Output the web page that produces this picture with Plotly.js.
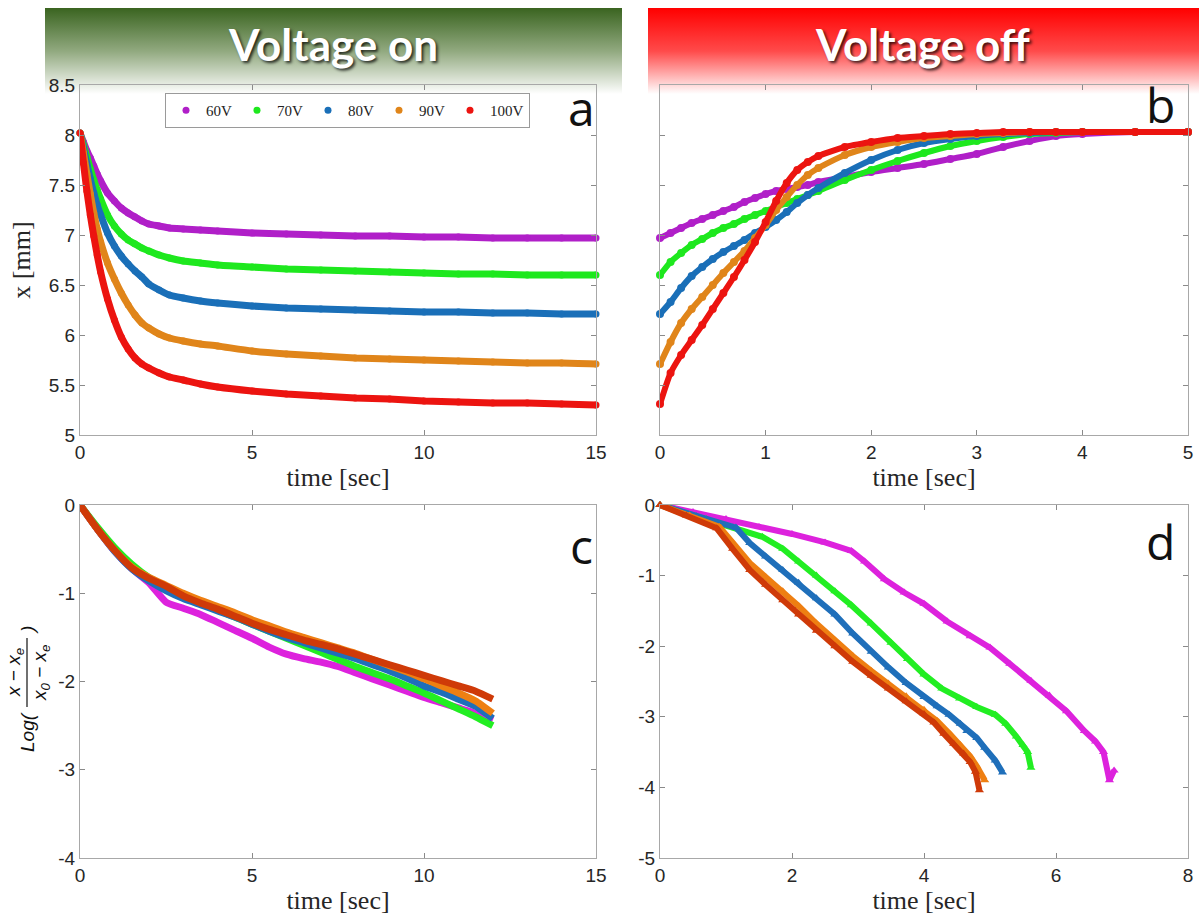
<!DOCTYPE html>
<html>
<head>
<meta charset="utf-8">
<script src="https://cdn.plot.ly/plotly-3.0.1.min.js"></script>
<style>html,body{margin:0;padding:0;background:#fff;}#chart{width:1199px;height:920px;}</style>
</head>
<body>
<div id="chart"></div>
<script>
// ---------- DATA ----------
const seriesNames = ['60V', '70V', '80V', '90V', '100V'];
const colorsTop = ['#b01fc8', '#1ee81e', '#1a6fb8', '#e0851a', '#ec1410'];
const colorsBottom = ['#dd22dd', '#22ee22', '#1f6fba', '#ee7f12', '#cf3a08'];

// Panel a: voltage on, x [mm]
const tOn = [0, 0.1, 0.2, 0.3, 0.4, 0.5, 0.6, 0.8, 1.0, 1.2, 1.4, 1.6, 1.8, 2.0, 2.3, 2.6, 3.0, 3.5, 4.0, 5, 6, 7, 8, 9, 10, 11, 12, 13, 14, 15];
const on60  = [8.02, 7.93, 7.84, 7.77, 7.69, 7.61, 7.54, 7.42, 7.34, 7.27, 7.22, 7.18, 7.14, 7.11, 7.09, 7.07, 7.06, 7.05, 7.04, 7.02, 7.01, 7.00, 6.99, 6.99, 6.98, 6.98, 6.97, 6.97, 6.97, 6.97];
const on70  = [8.02, 7.90, 7.78, 7.66, 7.55, 7.45, 7.36, 7.20, 7.09, 7.01, 6.95, 6.91, 6.87, 6.84, 6.80, 6.77, 6.74, 6.72, 6.70, 6.68, 6.66, 6.65, 6.64, 6.63, 6.62, 6.61, 6.61, 6.60, 6.60, 6.60];
const on80  = [8.02, 7.87, 7.71, 7.56, 7.42, 7.30, 7.20, 7.02, 6.89, 6.79, 6.71, 6.64, 6.58, 6.51, 6.45, 6.40, 6.37, 6.34, 6.32, 6.29, 6.27, 6.26, 6.25, 6.24, 6.23, 6.23, 6.22, 6.22, 6.21, 6.21];
const on90  = [8.02, 7.82, 7.61, 7.41, 7.22, 7.06, 6.93, 6.72, 6.56, 6.42, 6.30, 6.20, 6.12, 6.07, 6.01, 5.97, 5.94, 5.91, 5.89, 5.84, 5.81, 5.79, 5.77, 5.76, 5.75, 5.74, 5.73, 5.72, 5.72, 5.71];
const on100 = [8.02, 7.72, 7.44, 7.20, 6.99, 6.80, 6.63, 6.36, 6.15, 5.98, 5.86, 5.77, 5.71, 5.67, 5.62, 5.58, 5.55, 5.51, 5.48, 5.44, 5.41, 5.39, 5.37, 5.36, 5.34, 5.33, 5.32, 5.32, 5.31, 5.30];

// Panel b: voltage off, x [mm]
const tOff = [0, 0.1, 0.2, 0.3, 0.4, 0.5, 0.6, 0.7, 0.8, 0.9, 1.0, 1.1, 1.2, 1.3, 1.4, 1.5, 1.75, 2.0, 2.25, 2.5, 2.75, 3.0, 3.25, 3.5, 3.75, 4.0, 4.5, 5.0];
const off60  = [6.97, 7.02, 7.07, 7.12, 7.16, 7.20, 7.24, 7.28, 7.33, 7.37, 7.41, 7.44, 7.46, 7.48, 7.50, 7.53, 7.58, 7.63, 7.67, 7.71, 7.76, 7.81, 7.88, 7.94, 7.99, 8.01, 8.03, 8.03];
const off70  = [6.60, 6.73, 6.82, 6.90, 6.96, 7.02, 7.07, 7.11, 7.16, 7.20, 7.24, 7.28, 7.32, 7.36, 7.40, 7.44, 7.55, 7.65, 7.74, 7.82, 7.89, 7.94, 7.98, 8.01, 8.02, 8.03, 8.03, 8.03];
const off80  = [6.21, 6.33, 6.47, 6.59, 6.68, 6.76, 6.83, 6.89, 6.95, 7.02, 7.08, 7.15, 7.23, 7.32, 7.40, 7.47, 7.62, 7.75, 7.85, 7.92, 7.96, 7.99, 8.01, 8.02, 8.03, 8.03, 8.03, 8.03];
const off90  = [5.71, 5.93, 6.12, 6.26, 6.38, 6.50, 6.62, 6.73, 6.84, 6.97, 7.10, 7.25, 7.38, 7.50, 7.60, 7.67, 7.80, 7.88, 7.93, 7.97, 7.99, 8.01, 8.02, 8.03, 8.03, 8.03, 8.03, 8.03];
const off100 = [5.31, 5.62, 5.80, 5.95, 6.10, 6.26, 6.42, 6.58, 6.75, 6.93, 7.13, 7.34, 7.52, 7.65, 7.73, 7.79, 7.88, 7.93, 7.97, 7.99, 8.01, 8.02, 8.03, 8.03, 8.03, 8.03, 8.03, 8.03];

// Panel c: log ratio, voltage on
const tC = [0, 0.5, 1, 1.5, 2, 2.5, 3, 3.5, 4, 4.5, 5, 5.5, 6, 6.5, 7, 7.5, 8, 8.5, 9, 9.5, 10, 10.5, 11, 11.5, 12];
const logOn60  = [0, -0.27, -0.52, -0.72, -0.88, -1.10, -1.17, -1.24, -1.33, -1.42, -1.51, -1.61, -1.69, -1.74, -1.78, -1.83, -1.90, -1.97, -2.04, -2.11, -2.18, -2.24, -2.30, -2.36, -2.44];
const logOn70  = [0, -0.25, -0.48, -0.67, -0.82, -0.93, -1.03, -1.11, -1.19, -1.27, -1.35, -1.43, -1.51, -1.59, -1.67, -1.75, -1.83, -1.90, -1.97, -2.05, -2.13, -2.22, -2.31, -2.40, -2.50];
const logOn80  = [0, -0.27, -0.52, -0.72, -0.86, -0.97, -1.06, -1.13, -1.20, -1.27, -1.35, -1.43, -1.50, -1.56, -1.62, -1.68, -1.74, -1.81, -1.88, -1.96, -2.05, -2.12, -2.20, -2.28, -2.42];
const logOn90  = [0, -0.27, -0.51, -0.70, -0.82, -0.91, -1.00, -1.08, -1.15, -1.22, -1.30, -1.37, -1.44, -1.50, -1.56, -1.62, -1.68, -1.75, -1.82, -1.89, -1.97, -2.05, -2.13, -2.22, -2.36];
const logOn100 = [0, -0.27, -0.51, -0.71, -0.83, -0.92, -1.03, -1.11, -1.18, -1.26, -1.34, -1.41, -1.47, -1.53, -1.58, -1.63, -1.69, -1.75, -1.81, -1.87, -1.93, -1.99, -2.05, -2.11, -2.20];

// Panel d: log ratio, voltage off
const tD60  = [0, 0.5, 1.0, 1.5, 2.0, 2.5, 2.9, 3.1, 3.4, 3.7, 4.0, 4.35, 4.7, 5.0, 5.3, 5.62, 5.9, 6.16, 6.43, 6.6, 6.72, 6.81, 6.88];
const logOff60  = [0, -0.10, -0.20, -0.31, -0.41, -0.53, -0.65, -0.80, -1.05, -1.24, -1.40, -1.65, -1.86, -2.02, -2.25, -2.49, -2.70, -2.92, -3.20, -3.35, -3.50, -3.90, -3.76];
const tD70  = [0, 0.7, 1.55, 1.86, 2.1, 2.37, 2.65, 2.9, 3.2, 3.5, 3.75, 4.0, 4.27, 4.54, 4.8, 5.08, 5.24, 5.4, 5.5, 5.57, 5.62];
const logOff70  = [0, -0.20, -0.45, -0.62, -0.80, -1.00, -1.22, -1.42, -1.68, -1.95, -2.18, -2.40, -2.60, -2.74, -2.86, -2.97, -3.10, -3.28, -3.40, -3.50, -3.72];
const tD80  = [0, 0.55, 1.15, 1.36, 1.6, 1.86, 2.1, 2.37, 2.65, 2.92, 3.2, 3.46, 3.73, 4.0, 4.2, 4.38, 4.55, 4.65, 4.8, 4.92, 5.08, 5.19];
const logOff80  = [0, -0.16, -0.32, -0.54, -0.73, -0.92, -1.10, -1.32, -1.55, -1.82, -2.08, -2.30, -2.52, -2.72, -2.85, -2.97, -3.10, -3.20, -3.30, -3.44, -3.62, -3.79];
const tD90  = [0, 0.45, 0.9, 1.1, 1.36, 1.6, 1.86, 2.1, 2.37, 2.65, 2.92, 3.2, 3.46, 3.73, 4.0, 4.2, 4.4, 4.55, 4.7, 4.8, 4.92];
const logOff90  = [0, -0.15, -0.31, -0.53, -0.82, -1.02, -1.22, -1.43, -1.68, -1.92, -2.14, -2.35, -2.53, -2.71, -2.90, -3.06, -3.25, -3.40, -3.56, -3.70, -3.90];
const tD100 = [0, 0.4, 0.86, 1.1, 1.36, 1.6, 1.86, 2.1, 2.37, 2.65, 2.92, 3.2, 3.46, 3.73, 4.0, 4.15, 4.3, 4.45, 4.6, 4.7, 4.78, 4.84];
const logOff100 = [0, -0.15, -0.33, -0.62, -0.92, -1.13, -1.35, -1.55, -1.78, -2.00, -2.22, -2.42, -2.60, -2.78, -2.96, -3.08, -3.24, -3.38, -3.52, -3.64, -3.78, -4.04];

const yTickValsC = [-4, -3, -2, -1, 0];
const yTickTextC = ['-4', '-3', '-2', '-1', '0'];
const yTickValsD = [-5, -4, -3, -2, -1, 0];
const yTickTextD = ['-5', '-4', '-3', '-2', '-1', '0'];

// ---------- BUILD ----------
const W = 1199, H = 920;
const px = x => x / W;
const py = y => 1 - y / H;

const onY = [on60, on70, on80, on90, on100];
const offY = [off60, off70, off80, off90, off100];
const cY = [logOn60, logOn70, logOn80, logOn90, logOn100];
const dX = [tD60, tD70, tD80, tD90, tD100];
const dY = [logOff60, logOff70, logOff80, logOff90, logOff100];

const traces = [];
// panel a
seriesNames.forEach((n, i) => {
  traces.push({x: tOn, y: onY[i], type: 'scatter', mode: 'lines', xaxis: 'x', yaxis: 'y',
    line: {color: colorsTop[i], width: 7, shape: 'spline', smoothing: 0.6}, showlegend: false, hoverinfo: 'skip', cliponaxis: false});
  traces.push({x: tOn, y: onY[i], type: 'scatter', mode: 'markers', xaxis: 'x', yaxis: 'y', name: n,
    marker: {color: colorsTop[i], size: 7}, showlegend: true, cliponaxis: false});
});
// panel b
seriesNames.forEach((n, i) => {
  traces.push({x: tOff, y: offY[i], type: 'scatter', mode: 'lines+markers', xaxis: 'x2', yaxis: 'y2', name: n,
    line: {color: colorsTop[i], width: 6, shape: 'spline', smoothing: 0.6},
    marker: {color: colorsTop[i], size: 8}, showlegend: false, cliponaxis: false});
});
// panel c
seriesNames.forEach((n, i) => {
  traces.push({x: tC, y: cY[i], type: 'scatter', mode: 'lines', xaxis: 'x3', yaxis: 'y3', name: n,
    line: {color: colorsBottom[i], width: 7, shape: 'spline', smoothing: 0.5}, showlegend: false, cliponaxis: false});
});
// panel d
seriesNames.forEach((n, i) => {
  traces.push({x: dX[i], y: dY[i], type: 'scatter', mode: 'lines+markers', xaxis: 'x4', yaxis: 'y4', name: n,
    line: {color: colorsBottom[i], width: 6},
    marker: {color: colorsBottom[i], size: 8, symbol: 'triangle-up'}, showlegend: false, cliponaxis: false});
});

const tickFont = {family: 'Liberation Sans, Arial, sans-serif', size: 19, color: '#262626'};
const titleFont = {family: 'Liberation Serif, DejaVu Serif, serif', size: 26, color: '#262626'};
function ax(extra) {
  return Object.assign({
    showline: true, mirror: 'ticks', linecolor: '#a8a8a8', linewidth: 1,
    ticks: 'inside', ticklen: 5, tickcolor: '#8a8a8a', tickwidth: 1,
    showgrid: false, zeroline: false, tickfont: tickFont, automargin: false, fixedrange: true
  }, extra);
}

function bannerSvg(c0, c1, c2) {
  const s = "<svg xmlns='http://www.w3.org/2000/svg' width='100' height='100' preserveAspectRatio='none'>" +
    "<defs><linearGradient id='g' x1='0' y1='0' x2='0' y2='1'>" +
    "<stop offset='0' stop-color='" + c0 + "'/><stop offset='0.5' stop-color='" + c1 + "'/>" +
    "<stop offset='1' stop-color='" + c2 + "'/></linearGradient></defs>" +
    "<rect x='0' y='0' width='100' height='100' fill='url(#g)'/></svg>";
  return 'data:image/svg+xml;charset=utf-8,' + encodeURIComponent(s);
}

function note(text, x, y, font, extra) {
  return Object.assign({text: text, xref: 'paper', yref: 'paper', x: px(x), y: py(y),
    xanchor: 'center', yanchor: 'middle', showarrow: false, font: font}, extra || {});
}
const bannerFont = {family: 'Lato, Open Sans, sans-serif', size: 44, color: '#ffffff', shadow: '2px 2px 3px rgba(0,0,0,0.75)'};
const letterFont = {family: 'Open Sans, sans-serif', size: 48, color: '#111'};
const labelFont = {family: 'Liberation Sans, Arial, sans-serif', size: 19, color: '#111'};

const layout = {
  width: W, height: H,
  margin: {l: 0, r: 0, t: 0, b: 0, pad: 0},
  paper_bgcolor: '#ffffff', plot_bgcolor: 'rgba(0,0,0,0)',
  showlegend: true,
  legend: {
    x: px(165), y: py(93), xanchor: 'left', yanchor: 'top', orientation: 'h',
    bgcolor: '#ffffff', bordercolor: '#9a9a9a', borderwidth: 1,
    font: {family: 'Liberation Serif, DejaVu Serif, serif', size: 15, color: '#222'},
    itemwidth: 30, itemclick: false, itemdoubleclick: false
  },
  xaxis: ax({domain: [px(80), px(596)], anchor: 'y', range: [0, 15], dtick: 5, tick0: 0,
    title: {text: 'time [sec]', font: titleFont, standoff: 6}}),
  yaxis: ax({domain: [py(435), py(85)], anchor: 'x', range: [5, 8.5], dtick: 0.5, tick0: 5,
    title: {text: 'x [mm]', font: titleFont, standoff: 10}}),
  xaxis2: ax({domain: [px(660), px(1188)], anchor: 'y2', range: [0, 5], dtick: 1, tick0: 0,
    title: {text: 'time [sec]', font: titleFont, standoff: 6}}),
  yaxis2: ax({domain: [py(435), py(85)], anchor: 'x2', range: [5, 8.5], dtick: 0.5, tick0: 5, showticklabels: false}),
  xaxis3: ax({domain: [px(80), px(596)], anchor: 'y3', range: [0, 15], dtick: 5, tick0: 0,
    title: {text: 'time [sec]', font: titleFont, standoff: 6}}),
  yaxis3: ax({domain: [py(858), py(505)], anchor: 'x3', range: [-4, 0], tickvals: yTickValsC, ticktext: yTickTextC}),
  xaxis4: ax({domain: [px(660), px(1188)], anchor: 'y4', range: [0, 8], dtick: 2, tick0: 0,
    title: {text: 'time [sec]', font: titleFont, standoff: 6}}),
  yaxis4: ax({domain: [py(858), py(505)], anchor: 'x4', range: [-5, 0], tickvals: yTickValsD, ticktext: yTickTextD}),
  images: [
    {source: bannerSvg('#3a6420', '#91a97f', '#ffffff'), xref: 'paper', yref: 'paper',
      x: px(45), y: py(8), sizex: px(622) - px(45), sizey: (94 - 8) / H, sizing: 'stretch', layer: 'below', xanchor: 'left', yanchor: 'top'},
    {source: bannerSvg('#ff0000', '#ff4a4a', '#ffffff'), xref: 'paper', yref: 'paper',
      x: px(648), y: py(8), sizex: px(1199) - px(648), sizey: (94 - 8) / H, sizing: 'stretch', layer: 'below', xanchor: 'left', yanchor: 'top'}
  ],
  shapes: [
    // fraction bar of the panel c y label
    {type: 'line', xref: 'paper', yref: 'paper', x0: px(27), x1: px(27), y0: py(638), y1: py(707),
      line: {color: '#111', width: 1.2}}
  ],
  annotations: [
    note('<b>Voltage on</b>', 333, 44, bannerFont),
    note('<b>Voltage off</b>', 922, 44, bannerFont),
    note('a', 581, 108, letterFont),
    note('b', 1160, 104, letterFont),
    note('c', 581, 545, letterFont),
    note('d', 1160, 541, letterFont),
    note('<i>Log(</i>', 27, 732, labelFont, {textangle: -90}),
    note('<i>x − x<sub>e</sub></i>', 15, 673, labelFont, {textangle: -90}),
    note('<i>x<sub>0</sub> − x<sub>e</sub></i>', 41, 673, labelFont, {textangle: -90}),
    note('<i>)</i>', 27, 630, labelFont, {textangle: -90})
  ]
};

Plotly.newPlot('chart', traces, layout, {displayModeBar: false, staticPlot: true});
</script>
</body>
</html>
